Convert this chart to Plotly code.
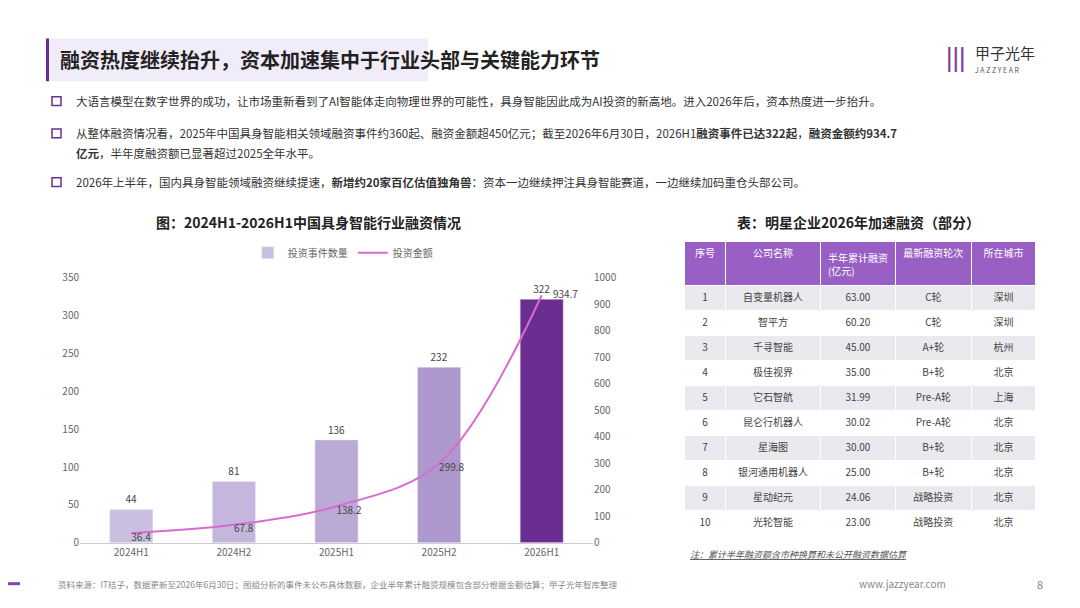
import plotly.graph_objects as go

W, H = 1080, 608
categories = ["2024H1", "2024H2", "2025H1", "2025H2", "2026H1"]
events = [44, 81, 136, 232, 322]
amounts = [36.4, 67.8, 138.2, 299.8, 934.7]
bar_colors = ["#cbbfe0", "#c4b6dc", "#bba9d6", "#ad97cc", "#6b2d91"]

t_idx = ["1","2","3","4","5","6","7","8","9","10"]
t_name = ["自变量机器人","智平方","千寻智能","极佳视界","它石智航","昆仑行机器人","星海图","银河通用机器人","星动纪元","光轮智能"]
t_amt = ["63.00","60.20","45.00","35.00","31.99","30.02","30.00","25.00","24.06","23.00"]
t_round = ["C轮","C轮","A+轮","B+轮","Pre-A轮","Pre-A轮","B+轮","B+轮","战略投资","战略投资"]
t_city = ["深圳","深圳","杭州","北京","上海","北京","北京","北京","北京","北京"]

FONT = "Noto Sans CJK SC"
def px(x): return x / W
def py(y): return 1 - y / H

amt_text = [str(v) for v in amounts]
amt_text[-1] = "     " + amt_text[-1]
amt_pos = ["bottom right"] * 4 + ["middle right"]

fig = go.Figure()
fig.add_trace(go.Bar(x=categories, y=events, name="投资事件数量", marker_color=bar_colors,
                     text=[str(v) for v in events], textposition="outside",
                     textfont=dict(size=10, color="#444"), width=0.42, cliponaxis=False))
fig.add_trace(go.Scatter(x=categories, y=amounts, name="投资金额", yaxis="y2", mode="lines+text",
                         line=dict(color="#d66ccf", width=2, shape="spline", smoothing=1.0),
                         text=amt_text, textposition=amt_pos,
                         textfont=dict(size=10, color="#444"), cliponaxis=False))

cell_fill = [["#e9e9ee" if i % 2 == 0 else "white" for i in range(10)]] * 5
fig.add_trace(go.Table(
    domain=dict(x=[px(676), px(1028)], y=[py(540), py(231)]),
    columnwidth=[40, 90, 72, 72, 62],
    header=dict(values=["序号","公司名称","半年累计融资<br>(亿元)","最新融资轮次","所在城市"],
                fill_color="#9a5fc4", line_color="white", align="center",
                font=dict(color="white", size=10, family=FONT), height=36),
    cells=dict(values=[t_idx, t_name, t_amt, t_round, t_city], fill_color=cell_fill,
               line_color="white", align="center", font=dict(color="#444", size=10, family=FONT), height=25)))

fig.update_layout(
    width=W, height=H, margin=dict(l=0, r=0, t=0, b=0), plot_bgcolor="white", paper_bgcolor="white",
    font=dict(family=FONT, color="#555"), showlegend=True,
    legend=dict(orientation="h", x=0.31, xanchor="center", y=py(242), yanchor="middle",
                font=dict(size=10, color="#666"), bgcolor="rgba(0,0,0,0)"),
    xaxis=dict(domain=[px(72), px(585)], tickfont=dict(size=10, color="#666"),
               showline=True, linecolor="#ccc", anchor="y"),
    yaxis=dict(domain=[py(540), py(268)], range=[0, 350], dtick=50, showgrid=False,
               tickfont=dict(size=10, color="#666")),
    yaxis2=dict(overlaying="y", side="right", range=[0, 1000], dtick=100, showgrid=False,
                tickfont=dict(size=10, color="#666")),
    bargap=0.5,
)

shapes = [
    dict(type="rect", xref="paper", yref="paper", x0=px(38), x1=px(41), y0=py(66), y1=py(22),
         fillcolor="#6b2d91", line_width=0),
    dict(type="rect", xref="paper", yref="paper", x0=px(41), x1=px(420), y0=py(66), y1=py(22),
         fillcolor="rgba(200,180,230,0.25)", line_width=0),
    dict(type="line", xref="paper", yref="paper", x0=0, x1=px(12), y0=py(582), y1=py(582),
         line=dict(color="#7b4aa8", width=3)),
    dict(type="line", xref="paper", yref="paper", x0=px(1068), x1=1, y0=py(582), y1=py(582),
         line=dict(color="#7b4aa8", width=3)),
]
for yb in [86, 119, 169]:
    shapes.append(dict(type="rect", xref="paper", yref="paper", x0=px(44), x1=px(53),
                       y0=py(yb + 5), y1=py(yb - 4), line=dict(color="#6b2d91", width=1.5)))
fig.update_layout(shapes=shapes)

def ann(x, y, text, size=11, color="#333", xanchor="left", **kw):
    fig.add_annotation(xref="paper", yref="paper", x=px(x), y=py(y), text=text, showarrow=False,
                       xanchor=xanchor, yanchor="middle", font=dict(size=size, color=color, family=FONT), **kw)

ann(50, 44, "<b>融资热度继续抬升，资本加速集中于行业头部与关键能力环节</b>", size=20, color="#222")
ann(965, 36, "甲子光年", size=15, color="#333")
ann(965, 54, "J A Z Z Y E A R", size=7, color="#555")
ann(948, 40, "<b>|||</b>", size=22, color="#7b3fa8", xanchor="center")
ann(66, 86, "大语言模型在数字世界的成功，让市场重新看到了AI智能体走向物理世界的可能性，具身智能因此成为AI投资的新高地。进入2026年后，资本热度进一步抬升。", size=11.5)
ann(66, 119, "从整体融资情况看，2025年中国具身智能相关领域融资事件约360起、融资金额超450亿元；截至2026年6月30日，2026H1<b>融资事件已达322起</b>，<b>融资金额约934.7</b>", size=11.5)
ann(66, 140, "<b>亿元</b>，半年度融资额已显著超过2025全年水平。", size=11.5)
ann(66, 169, "2026年上半年，国内具身智能领域融资继续提速，<b>新增约20家百亿估值独角兽</b>：资本一边继续押注具身智能赛道，一边继续加码重仓头部公司。", size=11.5)
ann(300, 211, "<b>图：2024H1-2026H1中国具身智能行业融资情况</b>", size=14, color="#222", xanchor="center")
ann(850, 211, "<b>表：明星企业2026年加速融资（部分）</b>", size=14, color="#222", xanchor="center")
ann(680, 552, "<u><i>注：累计半年融资额含市种换算和未公开融资数据估算</i></u>", size=9, color="#555")
ann(48, 582, "资料来源：IT桔子，数据更新至2026年6月30日；图组分析的事件未公布具体数额，企业半年累计融资规模包含部分根据金额估算；甲子光年智库整理", size=8.5, color="#888")
ann(940, 582, "www.jazzyear.com", size=10, color="#888", xanchor="right")
ann(1032, 582, "8", size=11, color="#888", xanchor="center")

fig.write_html("out.html")
